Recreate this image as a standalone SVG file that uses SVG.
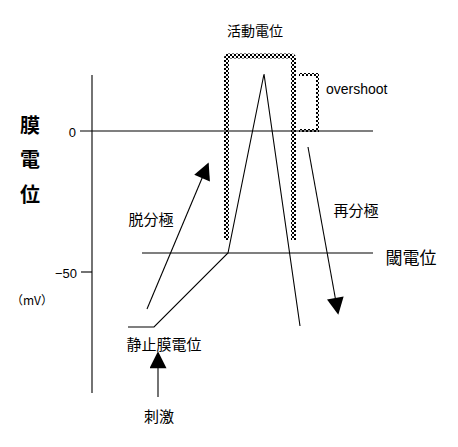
<svg xmlns="http://www.w3.org/2000/svg" width="458" height="447" viewBox="0 0 458 447">
<defs>
<pattern id="checker" width="4" height="4" patternUnits="userSpaceOnUse">
<rect x="0" y="0" width="2" height="2" fill="#000"/>
<rect x="2" y="2" width="2" height="2" fill="#000"/>
</pattern>
<marker id="headBig" viewBox="0 0 10 10" refX="9" refY="5" markerWidth="20" markerHeight="17" markerUnits="userSpaceOnUse" orient="auto">
<path d="M0,0 L10,5 L0,10 Z" fill="#000"/>
</marker>
</defs>
<style>
.ln{stroke:#000;stroke-width:1.1;fill:none}
.t{font-family:"Noto Sans CJK JP","Liberation Sans",sans-serif;fill:#000}
.lat{font-family:"Liberation Sans",sans-serif;fill:#000}
.dot{stroke:url(#checker);fill:none}
</style>
<rect width="458" height="447" fill="#fff"/>
<g id="axes">
<line class="ln" x1="92" y1="75" x2="92" y2="393"/>
<line class="ln" x1="80" y1="131" x2="373" y2="131"/>
<line class="ln" x1="81" y1="272" x2="92" y2="272"/>
<line class="ln" x1="142" y1="253" x2="373" y2="253"/>
</g>
<g id="axis-labels">
<text class="t" x="30" y="133" font-size="20" font-weight="bold" text-anchor="middle">膜</text>
<text class="t" x="30" y="167" font-size="20" font-weight="bold" text-anchor="middle">電</text>
<text class="t" x="30" y="202" font-size="20" font-weight="bold" text-anchor="middle">位</text>
<text class="lat" x="76" y="137" font-size="13" text-anchor="end">0</text>
<text class="lat" x="77" y="278" font-size="13" text-anchor="end">−50</text>
<text class="t" x="32" y="305" font-size="12" text-anchor="middle">（mV）</text>
</g>
<g id="action-potential-box">
<path class="dot" stroke-width="5" d="M226.5,240 V58 Q226.5,56 229,56 H291 Q293.5,56 293.5,58 V240"/>
<text class="t" x="255" y="36" font-size="14" text-anchor="middle">活動電位</text>
</g>
<g id="overshoot">
<path class="dot" stroke-width="3" d="M299,74.5 H317.5 V130.5 H299"/>
<text class="lat" x="326" y="94" font-size="14">overshoot</text>
</g>
<g id="connectors">
<polyline class="ln" points="128,327 154,327 228,253 264,74 300,326"/>
<line class="ln" x1="147" y1="309" x2="208" y2="164" marker-end="url(#headBig)"/>
<line class="ln" x1="308" y1="147" x2="338" y2="313" marker-end="url(#headBig)"/>
<line class="ln" x1="158" y1="397" x2="158" y2="353" marker-end="url(#headBig)"/>
</g>
<g id="labels">
<text class="t" x="151" y="225" font-size="15" text-anchor="middle">脱分極</text>
<text class="t" x="356" y="216" font-size="15" text-anchor="middle">再分極</text>
<text class="t" x="411" y="264" font-size="17" text-anchor="middle">閾電位</text>
<text class="t" x="164" y="350" font-size="15" text-anchor="middle">静止膜電位</text>
<text class="t" x="159" y="422" font-size="15" text-anchor="middle">刺激</text>
</g>
</svg>
